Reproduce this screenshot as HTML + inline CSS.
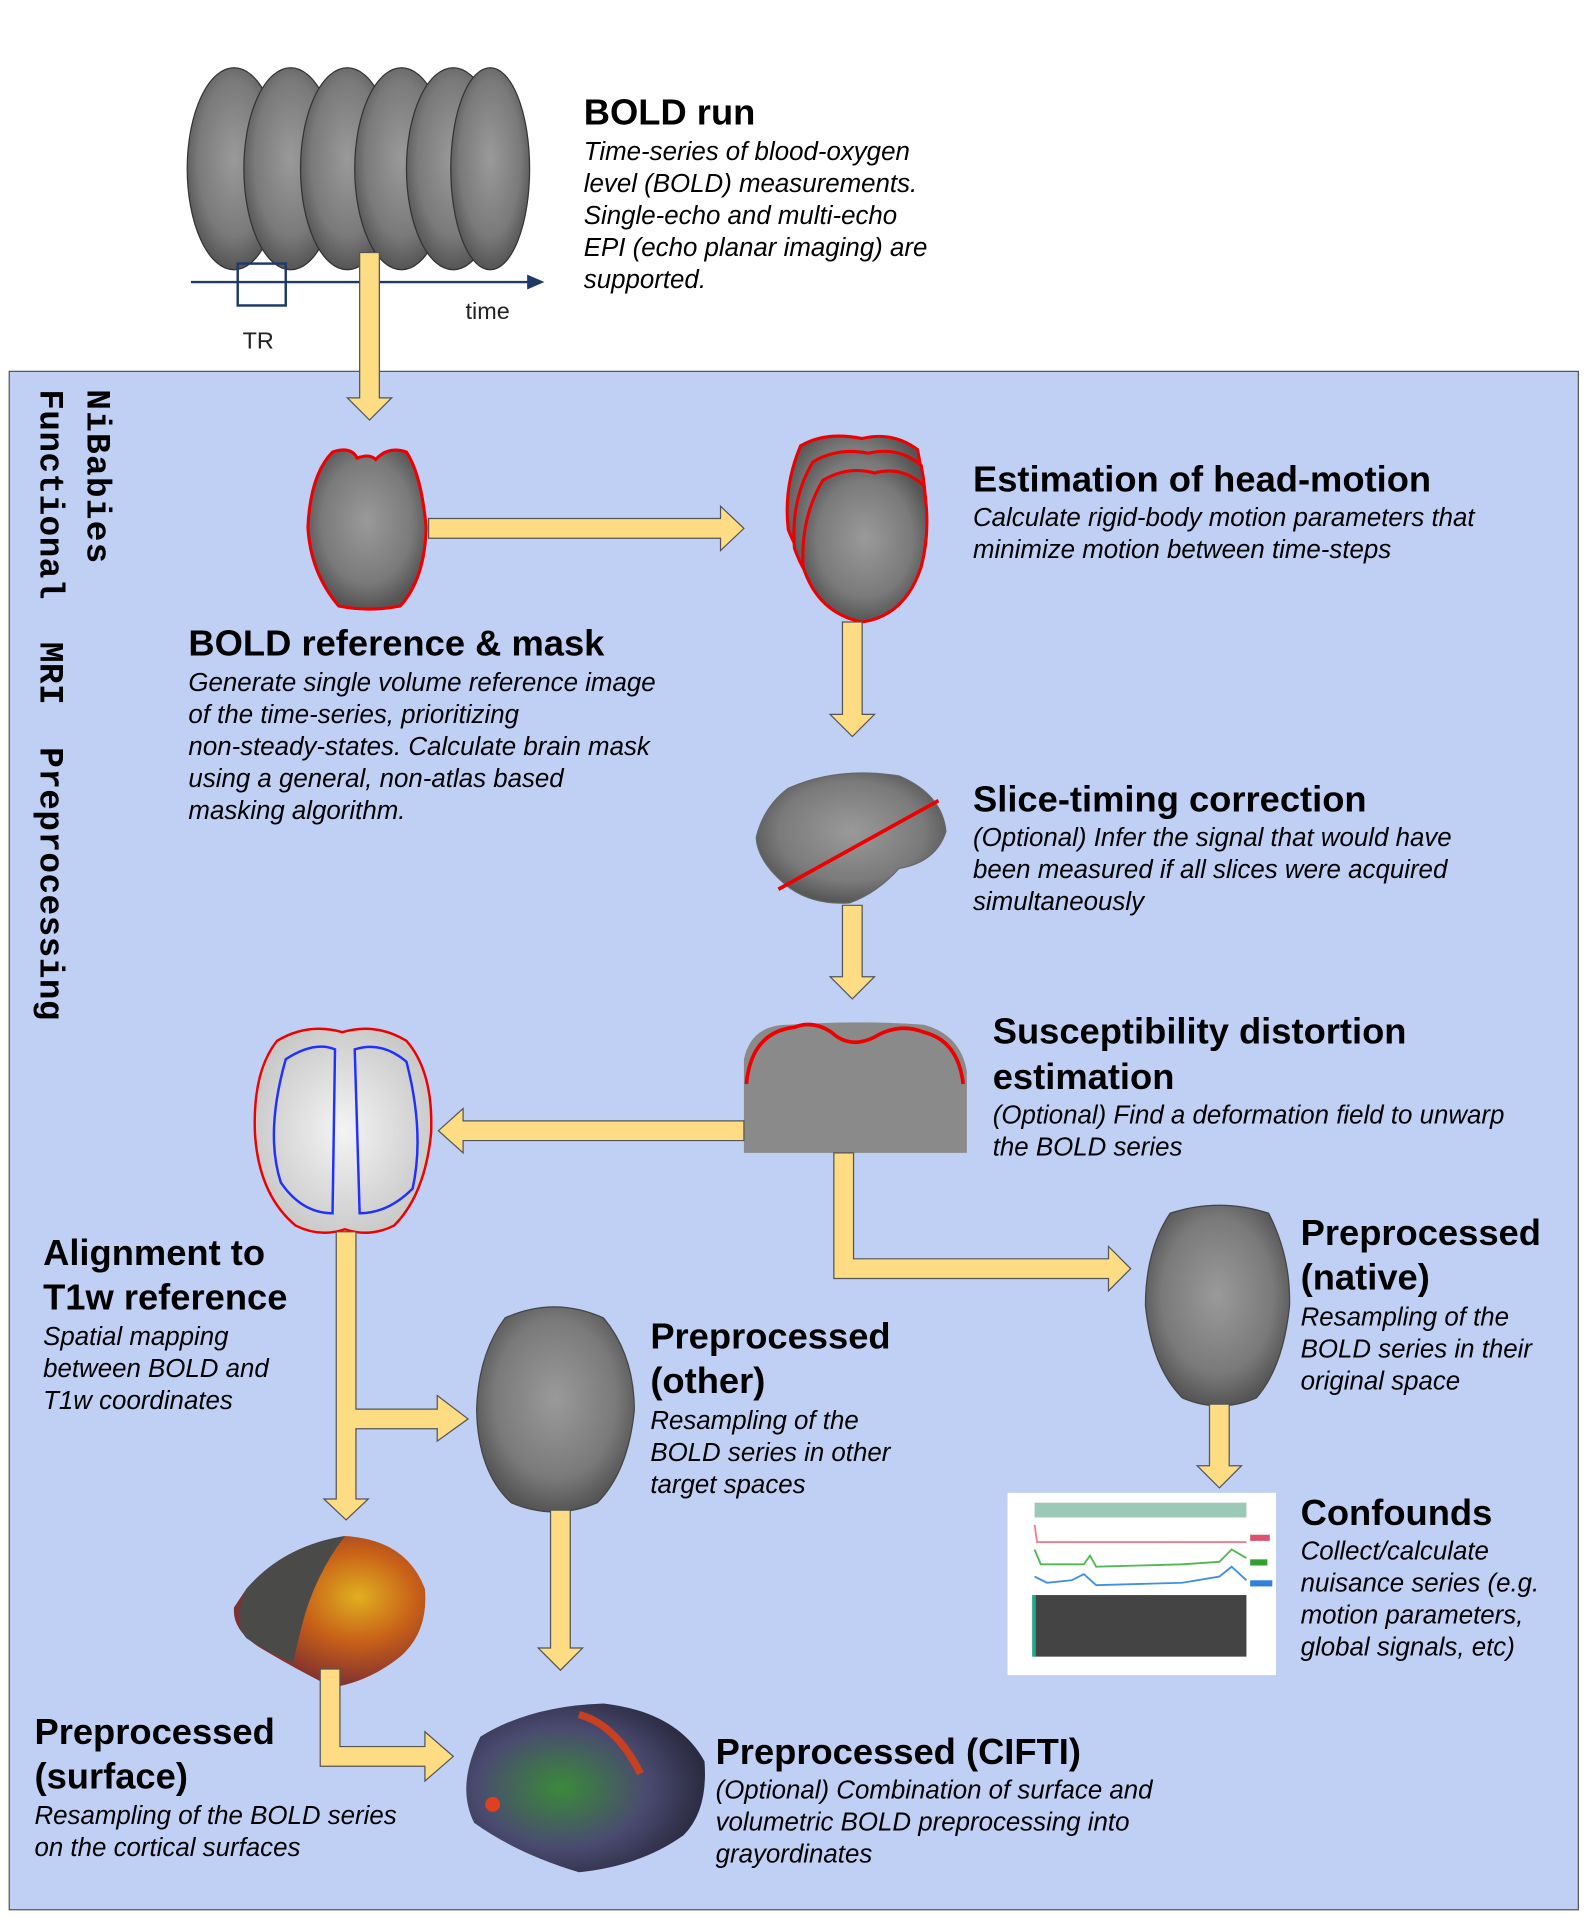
<!DOCTYPE html>
<html><head><meta charset="utf-8"><style>
html,body{margin:0;padding:0;background:#fff}
svg{display:block}
.t{font-family:"Liberation Sans",Arial,sans-serif;font-weight:bold;font-size:29.5px;fill:#000}
.d{font-family:"Liberation Sans",Arial,sans-serif;font-style:italic;font-size:21px;fill:#000}
.v{font-family:"Liberation Mono","Courier New",monospace;font-weight:bold;font-size:28px;fill:#000}
.ar{fill:#fedc84;stroke:#555;stroke-width:1}
</style></head><body>
<svg width="1595" height="1919" viewBox="0 0 1295 1558" preserveAspectRatio="none" xmlns="http://www.w3.org/2000/svg">
<defs>
<radialGradient id="gb" cx="50%" cy="45%" r="55%"><stop offset="0" stop-color="#9a9a9a"/><stop offset="0.7" stop-color="#7a7a7a"/><stop offset="1" stop-color="#555"/></radialGradient>
<radialGradient id="gw" cx="50%" cy="50%" r="55%"><stop offset="0" stop-color="#f4f4f4"/><stop offset="1" stop-color="#c8c8c8"/></radialGradient>
<radialGradient id="gs" cx="65%" cy="40%" r="60%"><stop offset="0" stop-color="#e0b020"/><stop offset="0.5" stop-color="#c86018"/><stop offset="1" stop-color="#803030"/></radialGradient>
<radialGradient id="gc" cx="40%" cy="50%" r="60%"><stop offset="0" stop-color="#3a8a3a"/><stop offset="0.6" stop-color="#4a4a70"/><stop offset="1" stop-color="#2a2a40"/></radialGradient>
</defs>
<g stroke="#333" stroke-width="1">
<ellipse cx="190" cy="137" rx="38" ry="82" fill="url(#gb)"/>
<ellipse cx="236" cy="137" rx="38" ry="82" fill="url(#gb)"/>
<ellipse cx="282" cy="137" rx="38" ry="82" fill="url(#gb)"/>
<ellipse cx="326" cy="137" rx="38" ry="82" fill="url(#gb)"/>
<ellipse cx="368" cy="137" rx="38" ry="82" fill="url(#gb)"/>
<ellipse cx="398" cy="137" rx="32" ry="82" fill="url(#gb)"/>
</g>
<line x1="155" y1="229" x2="432" y2="229" stroke="#1f3a6a" stroke-width="2"/>
<polygon points="442,229 428,223 428,235" fill="#1f3a6a"/>
<rect x="193" y="214" width="39" height="34" fill="none" stroke="#1f3a6a" stroke-width="2"/>
<text x="197" y="283" font-family="Liberation Sans,sans-serif" font-size="19" fill="#222">TR</text>
<text x="378" y="259" font-family="Liberation Sans,sans-serif" font-size="19" fill="#222">time</text>
<text class="t" x="474" y="101">BOLD run</text>
<text class="d" x="474" y="130">Time-series of blood-oxygen</text>
<text class="d" x="474" y="156">level (BOLD) measurements.</text>
<text class="d" x="474" y="182">Single-echo and multi-echo</text>
<text class="d" x="474" y="208">EPI (echo planar imaging) are</text>
<text class="d" x="474" y="234">supported.</text>
<rect x="7.5" y="301.5" width="1274" height="1249" fill="#bfd0f4" stroke="#555" stroke-width="1"/>
<text class="v" transform="translate(71,316) rotate(90)" letter-spacing="1">NiBabies</text>
<text class="v" transform="translate(33,316) rotate(90)" letter-spacing="0.3" xml:space="preserve">Functional  MRI  Preprocessing</text>
<polygon class="ar" points="292,205 308,205 308,323 318,323 300,341 282,323 292,323"/>
<path d="M270,367 Q285,362 290,372 Q300,368 305,373 Q315,362 330,367 Q342,385 346,428 Q345,470 325,492 Q300,497 275,492 Q252,465 250,428 Q252,385 270,367Z" fill="url(#gb)" stroke="#e00" stroke-width="2.5"/>
<polygon class="ar" points="348,421 585,421 585,411 604,429 585,447 585,437 348,437"/>
<g fill="url(#gb)" stroke="#e00" stroke-width="2.5">
<path d="M650,362 Q670,350 700,356 Q725,350 745,365 Q752,400 748,430 Q735,470 695,478 Q655,470 640,430 Q636,395 650,362Z"/>
<path d="M660,375 Q680,363 705,368 Q730,362 748,378 Q755,415 748,445 Q735,488 698,495 Q660,488 645,445 Q642,405 660,375Z"/>
<path d="M668,390 Q688,378 710,384 Q732,378 750,394 Q756,430 748,460 Q735,500 700,505 Q664,498 652,460 Q650,420 668,390Z"/>
</g>
<text class="t" x="790" y="399">Estimation of head-motion</text>
<text class="d" x="790" y="427">Calculate rigid-body motion parameters that</text>
<text class="d" x="790" y="453">minimize motion between time-steps</text>
<polygon class="ar" points="684,505 700,505 700,580 710,580 692,598 674,580 684,580"/>
<path d="M640,640 Q680,622 730,630 Q765,645 768,675 Q760,700 730,705 Q712,725 690,733 Q660,735 640,720 Q615,700 614,680 Q620,655 640,640Z" fill="url(#gb)" stroke="#666" stroke-width="1"/>
<line x1="632" y1="722" x2="762" y2="650" stroke="#e00" stroke-width="3"/>
<text class="t" x="790" y="659">Slice-timing correction</text>
<text class="d" x="790" y="687">(Optional) Infer the signal that would have</text>
<text class="d" x="790" y="713">been measured if all slices were acquired</text>
<text class="d" x="790" y="739">simultaneously</text>
<polygon class="ar" points="684,735 700,735 700,793 710,793 692,811 674,793 684,793"/>
<path d="M604,936 L604,860 Q610,832 640,832 Q700,828 750,832 Q780,840 785,870 L785,936Z" fill="#8a8a8a"/>
<path d="M606,880 Q610,838 645,834 Q660,828 675,838 Q690,852 710,842 Q730,830 750,838 Q778,845 782,880" fill="none" stroke="#e00" stroke-width="3"/>
<text class="t" x="806" y="847">Susceptibility distortion</text>
<text class="t" x="806" y="884">estimation</text>
<text class="d" x="806" y="912">(Optional) Find a deformation field to unwarp</text>
<text class="d" x="806" y="938">the BOLD series</text>
<polygon class="ar" points="604,910 604,926 376,926 376,936 356,918 376,900 376,910"/>
<path d="M225,845 Q250,830 278,838 Q305,830 330,845 Q352,870 350,920 Q345,970 320,995 Q300,1005 280,998 Q260,1005 240,995 Q210,970 207,920 Q205,870 225,845Z" fill="url(#gw)" stroke="#e00" stroke-width="2"/>
<path d="M232,860 Q255,845 272,852 L270,985 Q245,985 228,960 Q215,920 232,860Z M288,852 Q310,845 330,862 Q345,920 335,965 Q315,985 292,985Z" fill="none" stroke="#2030ff" stroke-width="2"/>
<polygon class="ar" points="677,936 693,936 693,1022 900,1022 900,1012 918,1030 900,1048 900,1038 677,1038"/>
<path d="M950,985 Q990,972 1030,985 Q1048,1020 1047,1060 Q1042,1110 1020,1135 Q990,1148 960,1135 Q935,1110 930,1060 Q930,1015 950,985Z" fill="url(#gb)" stroke="#444" stroke-width="1"/>
<text class="t" x="1056" y="1011">Preprocessed</text>
<text class="t" x="1056" y="1047">(native)</text>
<text class="d" x="1056" y="1076">Resampling of the</text>
<text class="d" x="1056" y="1102">BOLD series in their</text>
<text class="d" x="1056" y="1128">original space</text>
<polygon class="ar" points="982,1140 998,1140 998,1190 1008,1190 990,1208 972,1190 982,1190"/>
<rect x="818" y="1212" width="218" height="148" fill="#fff"/>
<rect x="840" y="1220" width="172" height="12" fill="#9cc8b8"/>
<polyline points="840,1238 842,1252 1012,1252" fill="none" stroke="#f08090" stroke-width="1.5"/>
<polyline points="840,1258 845,1270 880,1270 885,1263 890,1272 960,1270 990,1268 1000,1258 1012,1265" fill="none" stroke="#50b850" stroke-width="1.5"/>
<polyline points="840,1280 850,1285 870,1283 880,1278 890,1287 960,1285 990,1280 1000,1272 1012,1283" fill="none" stroke="#4090e0" stroke-width="1.5"/>
<rect x="1015" y="1246" width="16" height="5" fill="#e05070"/>
<rect x="1015" y="1266" width="14" height="5" fill="#30a030"/>
<rect x="1015" y="1283" width="18" height="5" fill="#3080e0"/>
<rect x="840" y="1295" width="172" height="50" fill="#444"/>
<rect x="838" y="1295" width="3" height="50" fill="#2a8"/>
<text class="t" x="1056" y="1238">Confounds</text>
<text class="d" x="1056" y="1266">Collect/calculate</text>
<text class="d" x="1056" y="1292">nuisance series (e.g.</text>
<text class="d" x="1056" y="1318">motion parameters,</text>
<text class="d" x="1056" y="1344">global signals, etc)</text>
<text class="t" x="35" y="1027">Alignment to</text>
<text class="t" x="35" y="1063">T1w reference</text>
<text class="d" x="35" y="1092">Spatial mapping</text>
<text class="d" x="35" y="1118">between BOLD and</text>
<text class="d" x="35" y="1144">T1w coordinates</text>
<polygon class="ar" points="273,1000 289,1000 289,1144 355,1144 355,1133 380,1152 355,1170 355,1160 289,1160 289,1217 299,1217 281,1234 263,1217 273,1217"/>
<path d="M410,1070 Q450,1052 490,1070 Q515,1100 515,1145 Q510,1195 485,1220 Q450,1235 415,1220 Q388,1195 387,1145 Q388,1100 410,1070Z" fill="url(#gb)" stroke="#444" stroke-width="1"/>
<text class="t" x="528" y="1095">Preprocessed</text>
<text class="t" x="528" y="1131">(other)</text>
<text class="d" x="528" y="1160">Resampling of the</text>
<text class="d" x="528" y="1186">BOLD series in other</text>
<text class="d" x="528" y="1212">target spaces</text>
<polygon class="ar" points="447,1226 463,1226 463,1338 473,1338 455,1356 437,1338 447,1338"/>
<path d="M200,1290 Q230,1255 280,1247 Q330,1250 345,1290 Q348,1325 325,1345 Q300,1365 270,1370 Q240,1355 215,1340 Q188,1325 190,1305Z" fill="url(#gs)"/>
<path d="M200,1290 Q230,1255 280,1247 Q255,1280 245,1320 Q240,1340 238,1350 Q215,1340 200,1330 Q188,1315 200,1290Z" fill="#4a4a48"/>
<polygon class="ar" points="260,1355 276,1355 276,1418 345,1418 345,1406 368,1426 345,1446 345,1434 260,1434"/>
<path d="M390,1410 Q430,1385 490,1383 Q550,1390 572,1430 Q575,1470 555,1490 Q520,1515 470,1520 Q420,1505 385,1480 Q370,1450 390,1410Z" fill="url(#gc)"/>
<path d="M470,1392 Q500,1400 520,1440" stroke="#c84020" stroke-width="6" fill="none"/>
<circle cx="400" cy="1465" r="6" fill="#e04020"/>
<text class="t" x="28" y="1416">Preprocessed</text>
<text class="t" x="28" y="1452">(surface)</text>
<text class="d" x="28" y="1481">Resampling of the BOLD series</text>
<text class="d" x="28" y="1507">on the cortical surfaces</text>
<text class="t" x="581" y="1432">Preprocessed (CIFTI)</text>
<text class="d" x="581" y="1460">(Optional) Combination of surface and</text>
<text class="d" x="581" y="1486">volumetric BOLD preprocessing into</text>
<text class="d" x="581" y="1512">grayordinates</text>
<text class="t" x="153" y="532">BOLD reference &amp; mask</text>
<text class="d" x="153" y="561">Generate single volume reference image</text>
<text class="d" x="153" y="587">of the time-series, prioritizing</text>
<text class="d" x="153" y="613">non-steady-states. Calculate brain mask</text>
<text class="d" x="153" y="639">using a general, non-atlas based</text>
<text class="d" x="153" y="665">masking algorithm.</text>
</svg>
</body></html>
